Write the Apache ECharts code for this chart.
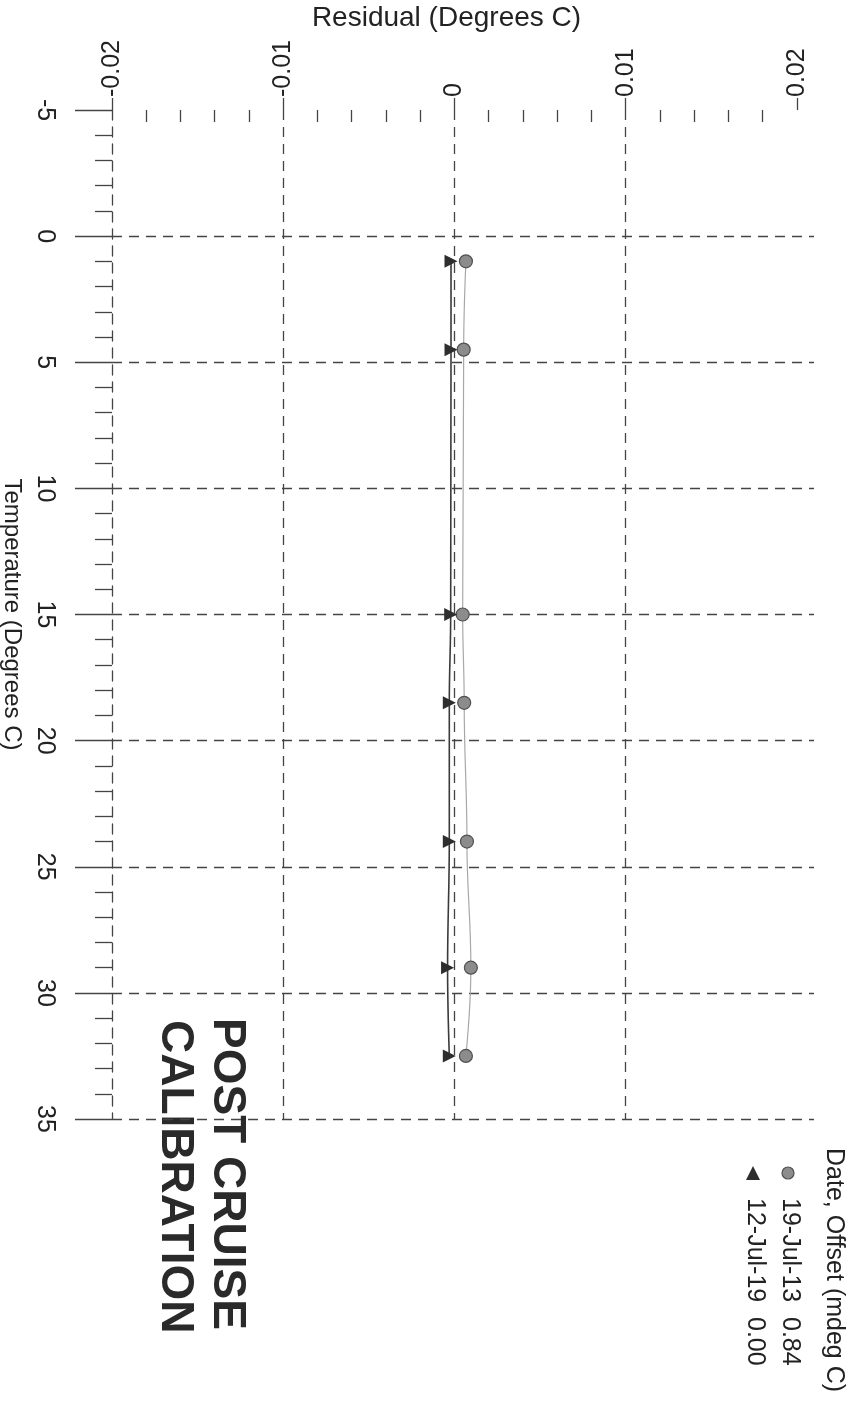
<!DOCTYPE html>
<html><head><meta charset="utf-8">
<script src="https://cdn.jsdelivr.net/npm/echarts@6/dist/echarts.min.js"></script>
<style>html,body{margin:0;padding:0;background:#fff}#c{width:858px;height:1412px}</style>
</head><body><div id="c"></div>
<script>
// ---- data ----
const temperatures = [1.0, 4.5, 15.0, 18.5, 24.0, 29.0, 32.5];
const residual2013 = [0.00067, 0.00054, 0.00048, 0.00057, 0.00073, 0.00096, 0.00067];
const residual2019 = [-0.0002, -0.0002, -0.00022, -0.0003, -0.0003, -0.0004, -0.0003];
const residualTicks = [-0.02, -0.01, 0, 0.01, 0.02];
const residualMinorTicks = [-0.018, -0.016, -0.014, -0.012, -0.008, -0.006, -0.004, -0.002,
  0.002, 0.004, 0.006, 0.008, 0.012, 0.014, 0.016, 0.018];
const temperatureTicks = [-5, 0, 5, 10, 15, 20, 25, 30, 35];
const seriesNames = ['19-Jul-13', '12-Jul-19'];
const seriesOffsets = ['0.84', '0.00'];
const legendTitle = 'Date, Offset (mdeg C)';
const stampLines = ['POST CRUISE', 'CALIBRATION'];

const FONT = 'Liberation Sans, Arial, sans-serif';
const GRID = '#444';
const dash = { color: GRID, width: 1.3, type: [10, 7] };

const chart = echarts.init(document.getElementById('c'), null, { renderer: 'canvas' });
const rot = -Math.PI / 2;

chart.setOption({
  animation: false,
  backgroundColor: '#fff',
  textStyle: { fontFamily: FONT, color: '#222' },
  grid: { left: 112, top: 110, width: 702, height: 1009, containLabel: false, outerBoundsMode: 'none' },
  xAxis: [{
    type: 'value', position: 'top', min: -0.02, max: 0.021, interval: 0.01,
    name: 'Residual (Degrees C)', nameLocation: 'middle', nameGap: 72,
    nameTextStyle: { fontSize: 28, color: '#222', padding: [0, 33, 0, 0] },
    axisLine: { show: false, onZero: false },
    axisTick: { show: true, length: 12, customValues: residualTicks, lineStyle: { color: GRID, width: 1.3 } },
    axisLabel: { rotate: -90, margin: 13, fontSize: 25, color: '#222', customValues: residualTicks },
    splitLine: { show: true, showMinLine: false, showMaxLine: false, lineStyle: dash }
  }, {
    type: 'value', position: 'top', min: -0.02, max: 0.021, interval: 0.01,
    axisLine: { show: false, onZero: false },
    axisTick: { show: true, inside: true, length: 12, customValues: residualMinorTicks, lineStyle: { color: GRID, width: 1.3 } },
    axisLabel: { show: false },
    splitLine: { show: false }
  }],
  yAxis: {
    type: 'value', inverse: true, min: -5, max: 35, interval: 5, position: 'left',
    name: 'Temperature (Degrees C)', nameLocation: 'middle', nameGap: 84, nameRotate: -90,
    nameTextStyle: { fontSize: 24, color: '#222' },
    axisLine: { show: true, onZero: false, lineStyle: dash },
    axisTick: { show: true, length: 37, lineStyle: { color: GRID, width: 1.3 } },
    minorTick: { show: true, splitNumber: 5, length: 17, lineStyle: { color: GRID, width: 1.3 } },
    axisLabel: { rotate: -90, margin: 55, fontSize: 25, color: '#222', customValues: temperatureTicks },
    splitLine: { show: true, showMinLine: false, lineStyle: dash }
  },
  series: [{
    name: seriesNames[0], type: 'line', xAxisIndex: 0,
    data: temperatures.map((t, i) => [residual2013[i], t]),
    smooth: 0.4, smoothMonotone: 'y',
    symbol: 'circle', symbolSize: 13,
    itemStyle: { color: '#8c8c8c', borderColor: '#505050', borderWidth: 1.2 },
    lineStyle: { color: '#a8a8a8', width: 1.2 }, z: 3
  }, {
    name: seriesNames[1], type: 'line', xAxisIndex: 0,
    data: temperatures.map((t, i) => [residual2019[i], t]),
    smooth: 0.4, smoothMonotone: 'y',
    symbol: 'triangle', symbolRotate: -90, symbolSize: 13,
    itemStyle: { color: '#2e2e2e' },
    lineStyle: { color: '#3a3a3a', width: 1.6 }, z: 4
  }],
  graphic: [
    { type: 'text', x: 227, y: 1018, rotation: rot,
      style: { text: stampLines[0], font: 'bold 46px ' + FONT, fill: '#2a2a2a', align: 'left', verticalAlign: 'middle' } },
    { type: 'text', x: 175, y: 1020, rotation: rot,
      style: { text: stampLines[1], font: 'bold 46px ' + FONT, fill: '#2a2a2a', align: 'left', verticalAlign: 'middle' } },
    { type: 'text', x: 834, y: 1148, rotation: rot,
      style: { text: legendTitle, font: '25px ' + FONT, fill: '#222', align: 'left', verticalAlign: 'middle' } },
    { type: 'circle', shape: { cx: 788, cy: 1173, r: 6 },
      style: { fill: '#8c8c8c', stroke: '#505050', lineWidth: 1.2 } },
    { type: 'polygon', shape: { points: [[753, 1166], [760, 1180], [746, 1180]] },
      style: { fill: '#2e2e2e' } },
    { type: 'text', x: 790, y: 1198, rotation: rot,
      style: { text: seriesNames[0], font: '25px ' + FONT, fill: '#222', align: 'left', verticalAlign: 'middle' } },
    { type: 'text', x: 790, y: 1317, rotation: rot,
      style: { text: seriesOffsets[0], font: '25px ' + FONT, fill: '#222', align: 'left', verticalAlign: 'middle' } },
    { type: 'text', x: 755, y: 1198, rotation: rot,
      style: { text: seriesNames[1], font: '25px ' + FONT, fill: '#222', align: 'left', verticalAlign: 'middle' } },
    { type: 'text', x: 755, y: 1317, rotation: rot,
      style: { text: seriesOffsets[1], font: '25px ' + FONT, fill: '#222', align: 'left', verticalAlign: 'middle' } }
  ]
});
</script></body></html>
